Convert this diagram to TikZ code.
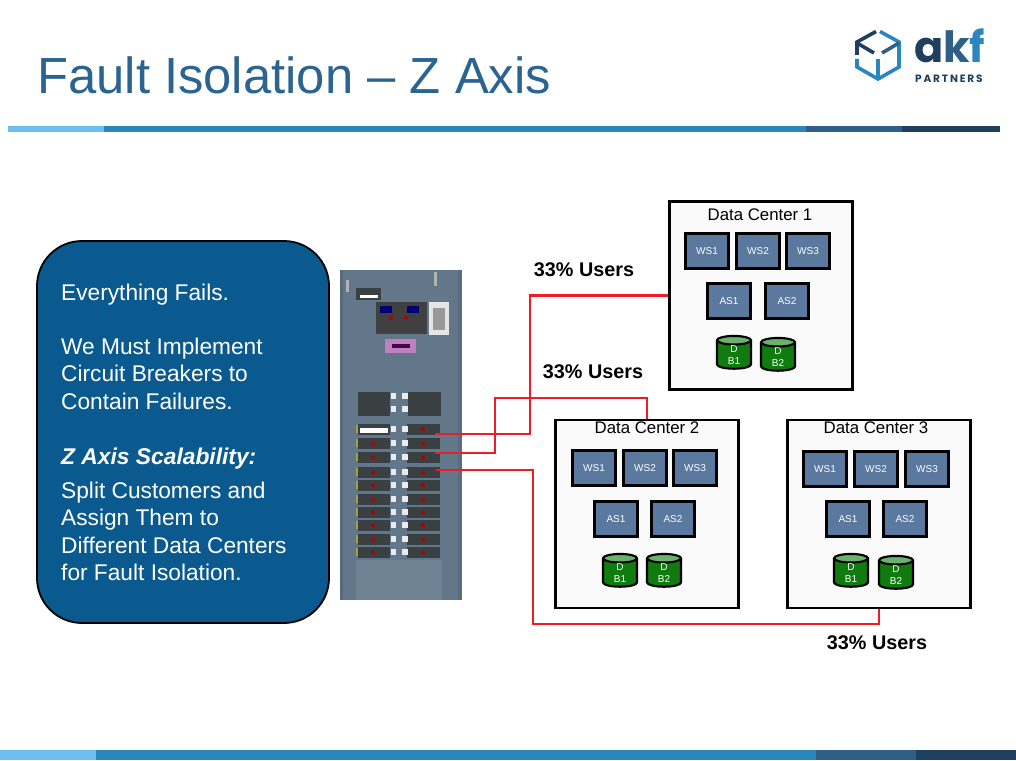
\documentclass[tikz,border=0pt]{standalone}
\usepackage{fontspec}
\usepackage{amsmath}
\setmainfont{Liberation Sans}
\newfontfamily\logofont{Poppins}
\newfontfamily\logosmall{Poppins}[LetterSpace=17.0]
\usetikzlibrary{shapes.geometric,shadows}
\definecolor{barlight}{HTML}{6CBFEE}
\definecolor{barmid}{HTML}{2A86BE}
\definecolor{bardark}{HTML}{2F5F85}
\definecolor{barnavy}{HTML}{1F3F5E}
\definecolor{titleblue}{HTML}{2B6490}
\definecolor{panelblue}{HTML}{0B5A8F}
\definecolor{serverblue}{HTML}{5B789F}
\definecolor{dbgreen}{HTML}{107C10}
\definecolor{dbtop}{HTML}{69B269}
\definecolor{wirered}{HTML}{EE1C25}
\definecolor{cabinet}{HTML}{62778A}
\definecolor{breaker}{HTML}{3A3F42}
\tikzset{
  dcbox/.style={rectangle,draw=black,line width=2.1pt,fill=black!2,minimum width=183,minimum height=188,
    drop shadow={shadow xshift=1pt,shadow yshift=-1pt,opacity=.3}},
  dclabel/.style={font=\fontsize{16.8}{16.8}\selectfont,inner sep=0pt},
  server/.style={rectangle,draw=black,line width=2.1pt,fill=serverblue,text=white!90,minimum height=35,
    font=\fontsize{10}{10}\selectfont,inner sep=0pt,drop shadow={shadow xshift=1pt,shadow yshift=-1pt,opacity=.3}},
  dbase/.style={cylinder,shape border rotate=90,aspect=.7,draw=black,line width=2.1pt,cylinder uses custom fill,
    cylinder body fill=dbgreen,cylinder end fill=dbtop,text=white!90,minimum width=34,minimum height=32,inner sep=0pt,
    align=center,font=\fontsize{10}{12}\selectfont},
  wire/.style={draw=wirered,line width=2.2pt},
  share/.style={font=\fontsize{19.8}{19.8}\selectfont\bfseries,inner sep=0pt},
  blurb/.style={text=white,anchor=north west,align=left,inner sep=0pt,font=\fontsize{22.7}{27.2}\selectfont}
}
\begin{document}
\begin{tikzpicture}[x=1pt,y=-1pt]
  \useasboundingbox (0,0) rectangle (1016,760);
  % title and bars
  \node[anchor=west,text=titleblue,inner sep=0pt,font=\fontsize{50.8}{50.8}\selectfont] (title) at (37,75) {Fault Isolation -- Z Axis};
  \fill[barlight] (8,126) rectangle (104,132);
  \fill[barmid] (104,126) rectangle (806,132);
  \fill[bardark] (806,126) rectangle (902,132);
  \fill[barnavy] (902,126) rectangle (1000,132);
  \fill[barlight] (0,750) rectangle (96,760);
  \fill[barmid] (96,750) rectangle (816,760);
  \fill[bardark] (816,750) rectangle (916,760);
  \fill[barnavy] (916,750) rectangle (1016,760);
  % logo
  \draw[barnavy,line width=3.6pt] (876,31.5) -- (857,42) -- (857,55);
  \draw[barnavy,line width=3.6pt] (857,43) -- (874,53);
  \draw[barmid,line width=3.6pt] (880,31.5) -- (899,42) -- (899,67) -- (878,79) -- (857,67) -- (857,59);
  \draw[barmid,line width=3.6pt] (878,59) -- (878,78);
  \draw[bardark,line width=3.6pt] (899,43) -- (882,53);
  \node[anchor=base west,inner sep=0pt,text depth=0pt,text height=32pt,font=\logofont\bfseries\fontsize{43}{43}\selectfont] (akf) at (914,63)
    {\textcolor{barnavy}{a}\textcolor{bardark}{k}\textcolor{barmid}{f}};
  \node[anchor=base west,inner sep=0pt,text depth=0pt,text height=8pt,text=barnavy,font=\logosmall\bfseries\fontsize{10.6}{10.6}\selectfont] (partners) at (915,82) {PARTNERS};
  % text panel
  \node[rectangle,rounded corners=45,draw=black,line width=1.8pt,fill=panelblue,minimum width=292,minimum height=382] (panel) at (183,432) {};
  \node[blurb] (p1) at (61,284) {Everything Fails.};
  \node[blurb] (p2) at (61,338) {We Must Implement\\Circuit Breakers to\\Contain Failures.};
  \node[blurb,font=\fontsize{22.8}{27}\selectfont\bfseries\itshape] (p3) at (61,448) {Z Axis Scalability:};
  \node[blurb] (p4) at (61,482) {Split Customers and\\Assign Them to\\Different Data Centers\\for Fault Isolation.};
  % breaker cabinet
  \fill[cabinet] (340,270) rectangle (462,600);
  \fill[black!10!cabinet] (340,270) rectangle (343,600);
  \fill[black!8!cabinet] (458,270) rectangle (462,600);
  \fill[white!8!cabinet] (356,560) rectangle (442,600);
  \fill[breaker] (356,288) rectangle (381,300);
  \fill[white!75] (360,295) rectangle (378,298);
  \fill[black!75] (376,302) rectangle (427,334);
  \fill[blue!45!black] (380,306) rectangle (392,313);
  \fill[blue!45!black] (407,306) rectangle (419,313);
  \fill[black!10] (429,302) rectangle (449,335);
  \fill[black!40] (433,308) rectangle (445,330);
  \fill[violet!50!white] (385,339) rectangle (416,353);
  \fill[violet!60!black] (392,344) rectangle (410,348);
  \fill[red!70!black] (391,318) circle (2);
  \fill[red!70!black] (406,318) circle (2);
  \fill[black!30] (346,280) rectangle (349,292);
  \fill[black!30] (434,272) rectangle (437,286);
  \fill[breaker] (358,392) rectangle (390,416);
  \fill[breaker] (408,392) rectangle (441,416);
  \foreach \rowy in {424,438,452,467,480,494,507,520,534,547} {
    \fill[breaker] (358,\rowy) rectangle (390,\rowy+11);
    \fill[breaker] (407,\rowy) rectangle (440,\rowy+11);
    \fill[red!70!black] (373,\rowy+5.5) circle (2);
    \fill[red!70!black] (423,\rowy+5.5) circle (2);
    \fill[black!8] (391,\rowy+2) rectangle (396,\rowy+8);
    \fill[black!8] (402,\rowy+2) rectangle (408,\rowy+8);
    \fill[yellow!60!black] (356,\rowy+1) rectangle (358,\rowy+9);
  }
  \fill[black!8] (391,393) rectangle (396,399);
  \fill[black!8] (402,393) rectangle (408,399);
  \fill[black!8] (391,406) rectangle (396,412);
  \fill[black!8] (402,406) rectangle (408,412);
  \fill[white] (360,428) rectangle (388,433);
  % data centers
  \node[dcbox] (dc1) at (761,295.5) {};
  \node[dcbox] (dc2) at (647,514) {};
  \node[dcbox] (dc3) at (879,514) {};
  \node[dclabel] (dc1name) at (760,215) {Data Center 1};
  \node[dclabel] (dc2name) at (647,428) {Data Center 2};
  \node[dclabel] (dc3name) at (876,428) {Data Center 3};
  \begin{scope}[every node/.append style={server,minimum width=43}]
    \node (ws11) at (707,251) {WS1};
    \node (ws12) at (758,251) {WS2};
    \node (ws13) at (808,251) {WS3};
    \node (as11) at (729,301) {AS1};
    \node (as12) at (787,301) {AS2};
    \node (ws21) at (594,468) {WS1};
    \node (ws22) at (645,468) {WS2};
    \node (ws23) at (695,468) {WS3};
    \node (as21) at (616,519) {AS1};
    \node (as22) at (673,519) {AS2};
    \node (ws31) at (825,469) {WS1};
    \node (ws32) at (876,469) {WS2};
    \node (ws33) at (927,469) {WS3};
    \node (as31) at (848,519) {AS1};
    \node (as32) at (905,519) {AS2};
  \end{scope}
  \node[dbase] (db11) at (734,355) {D\\B1};
  \node[dbase] (db12) at (778,357) {D\\B2};
  \node[dbase] (db21) at (620,573) {D\\B1};
  \node[dbase] (db22) at (664,573) {D\\B2};
  \node[dbase] (db31) at (851,573) {D\\B1};
  \node[dbase] (db32) at (896,575) {D\\B2};
  % wires
  \coordinate (tap1) at (435,434);
  \coordinate (tap2) at (435,453);
  \coordinate (tap3) at (436,470);
  \coordinate (bend1) at (530,295.5);
  \coordinate (bend2) at (495,398);
  \coordinate (bend3) at (533,624);
  \draw[wire] (tap1) -| (bend1) -- (dc1.west);
  \draw[wire] (tap2) -| (bend2) -| (dc2.north);
  \draw[wire] (tap3) -| (bend3) -| (dc3.south);
  \node[share] (share1) at (584,270) {33\% Users};
  \node[share] (share2) at (593,372) {33\% Users};
  \node[share] (share3) at (877,643) {33\% Users};
\end{tikzpicture}
\end{document}
